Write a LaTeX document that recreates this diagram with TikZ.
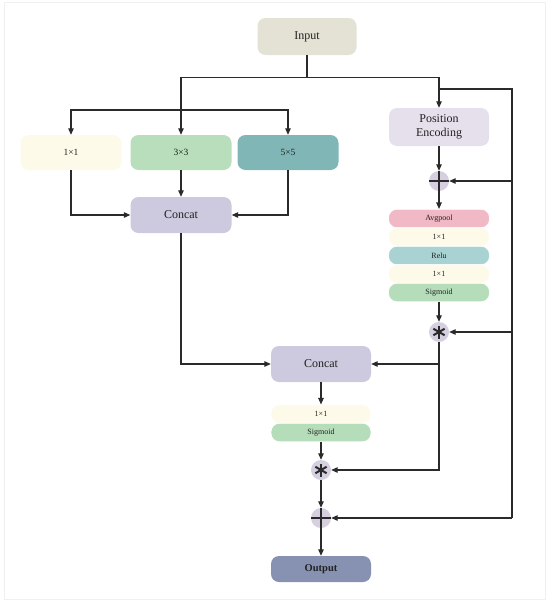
\documentclass[tikz,border=0pt]{standalone}
\usepackage{fontspec}
\setmainfont{Liberation Serif}
\usetikzlibrary{arrows.meta}
\definecolor{inputc}{HTML}{E4E2D4}
\definecolor{creamc}{HTML}{FEFAEA}
\definecolor{greenc}{HTML}{B8DEBB}
\definecolor{tealc}{HTML}{80B7B6}
\definecolor{pec}{HTML}{E6E0EC}
\definecolor{catc}{HTML}{CDC9DE}
\definecolor{opc}{HTML}{D6CFDF}
\definecolor{avgc}{HTML}{F1B9C5}
\definecolor{reluc}{HTML}{A9D3D2}
\definecolor{sigc}{HTML}{B5DDB9}
\definecolor{outc}{HTML}{8792B2}
\definecolor{linec}{HTML}{2A2A2A}
\definecolor{txtc}{HTML}{222222}
\tikzset{
  box/.style={rounded corners=8pt, inner sep=0pt, text=txtc, align=center},
  bigbox/.style={box, minimum width=100pt, minimum height=36pt, font=\fontsize{12}{14}\selectfont},
  midbox/.style={box, minimum width=101pt, minimum height=35pt, font=\fontsize{9.5}{11}\selectfont},
  pill/.style={rounded corners=8.5pt, inner sep=0pt, minimum width=101pt, minimum height=18.5pt, draw=white, line width=0.6pt, text=txtc, font=\fontsize{8}{9}\selectfont},
  opnode/.style={circle, fill=opc, minimum size=20pt, inner sep=0pt},
  conn/.style={draw=linec, line width=1.1pt},
  arr/.style={conn, -{Triangle[length=6.5pt,width=5.5pt]}},
  sym/.style={draw=linec, line width=1.7pt},
  starsym/.style={draw=linec, line width=2pt},
}
\begin{document}
\begin{tikzpicture}[x=1pt, y=-1pt]
\useasboundingbox (0,0) rectangle (550,605);
\draw[black!6, line width=0.8pt] (4,2) rectangle (545,599);

% nodes
\node[bigbox, fill=inputc, minimum width=99pt, minimum height=37pt] (in) at (307,36.5) {Input};
\node[midbox, fill=creamc] (c1) at (71,152.5) {1×1};
\node[midbox, fill=greenc] (c3) at (181,152.5) {3×3};
\node[midbox, fill=tealc] (c5) at (288,152.5) {5×5};
\node[bigbox, fill=pec, minimum height=38pt, font=\fontsize{12}{14.5}\selectfont] (pe) at (439,127) {Position\\Encoding};
\node[bigbox, fill=catc, minimum width=101pt] (cat1) at (181,215) {Concat};

\node[opnode] (plus1) at (439,181) {};
\draw[sym] (plus1.west) -- (plus1.east) (plus1.north) -- (plus1.south);

\node[pill, fill=avgc] (avg) at (439,218.5) {Avgpool};
\node[pill, fill=creamc] (p1) at (439,237) {1×1};
\node[pill, fill=reluc] (relu) at (439,255.5) {Relu};
\node[pill, fill=creamc] (p2) at (439,274) {1×1};
\node[pill, fill=sigc] (sig) at (439,292.5) {Sigmoid};

\node[opnode] (star1) at (439,332) {};
\foreach \a in {90,30,150} {\draw[starsym] (star1.center) ++(\a:6.5) -- ++(\a+180:13);}

\node[bigbox, fill=catc] (cat2) at (321,364) {Concat};
\node[pill, fill=creamc, minimum width=100pt] (q1) at (321,414) {1×1};
\node[pill, fill=sigc, minimum width=100pt] (qsig) at (321,432.5) {Sigmoid};

\node[opnode] (star2) at (321,470) {};
\foreach \a in {90,30,150} {\draw[starsym] (star2.center) ++(\a:6.5) -- ++(\a+180:13);}

\node[opnode] (plus2) at (321,518) {};
\draw[sym] (plus2.west) -- (plus2.east) (plus2.north) -- (plus2.south);

\node[box, fill=outc, minimum width=100pt, minimum height=26pt, font=\fontsize{10.5}{12}\selectfont\bfseries] (out) at (321,569) {Output};

% junctions
\coordinate (j1) at (307,77.5);
\coordinate (j2) at (181,110);
\coordinate (j3) at (439,89);
\coordinate (rt) at (512,89);
\coordinate (rb) at (512,518);

% connectors
\draw[conn] (in.south) -- (j1);
\draw[arr] (j1) -| (c3.north);
\draw[arr] (j1) -| (pe.north);
\draw[arr] (j2) -| (c1.north);
\draw[arr] (j2) -| (c5.north);
\draw[conn] (j3) -- (rt) -- (rb);
\draw[arr] (rb) -- (plus2.east);
\draw[arr] (plus1 -| rt) -- (plus1.east);
\draw[arr] (star1 -| rt) -- (star1.east);

\draw[arr] (c1.south) |- (cat1.west);
\draw[arr] (c5.south) |- (cat1.east);
\draw[arr] (c3.south) -- (cat1.north);
\draw[arr] (cat1.south) |- (cat2.west);

\draw[arr] (pe.south) -- (plus1.north);
\draw[arr] (plus1.south) -- (avg.north);
\draw[arr] (sig.south) -- (star1.north);
\draw[arr] (star1.south) |- (star2.east);
\draw[arr] (star1 |- cat2.east) -- (cat2.east);

\draw[arr] (cat2.south) -- (q1.north);
\draw[arr] (qsig.south) -- (star2.north);
\draw[arr] (star2.south) -- (plus2.north);
\draw[arr] (plus2.south) -- (out.north);
\end{tikzpicture}
\end{document}
